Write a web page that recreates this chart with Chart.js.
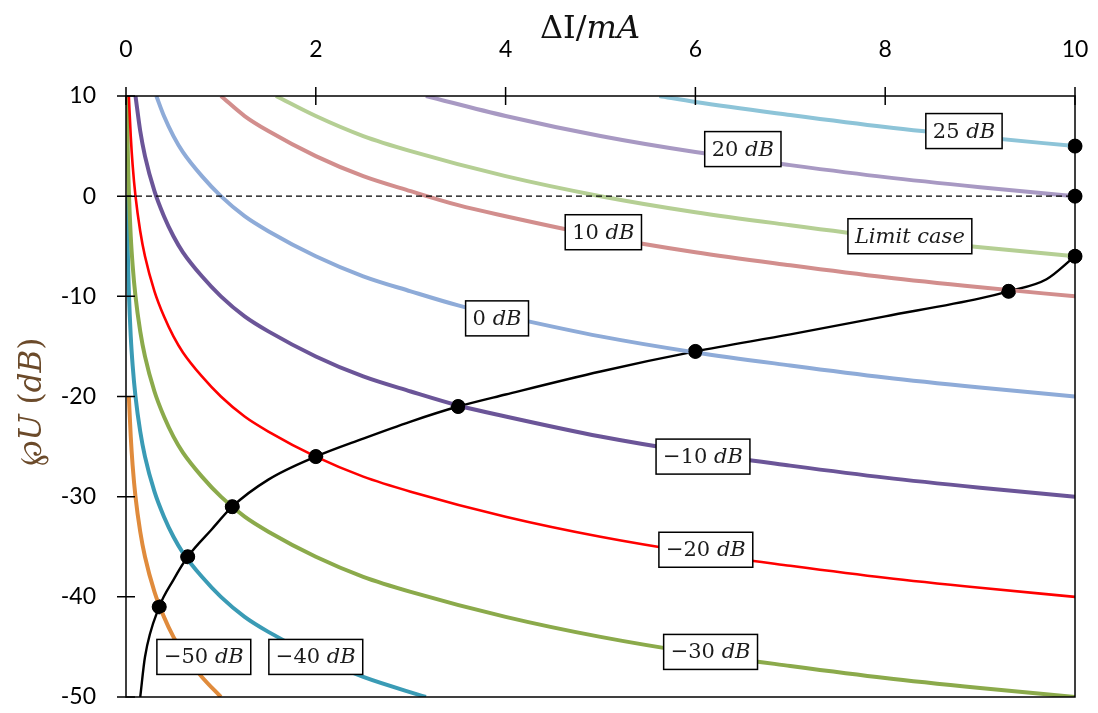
<!DOCTYPE html>
<html>
<head>
<meta charset="utf-8">
<script src="https://cdn.jsdelivr.net/npm/chart.js@4.4.0/dist/chart.umd.min.js"></script>
<style>
  html, body { margin: 0; background: #fff; }
</style>
</head>
<body>
<canvas id="c" width="1098" height="713"></canvas>
<script>
/* Attenuation curves vs ΔI. */

const xTicks = [0, 2, 4, 6, 8, 10];
const yTicks = [10, 0, -10, -20, -30, -40, -50];

const x25 = [5.62, 6, 7, 8, 9, 10];
const y25 = [10, 9.4, 8.1, 6.9, 5.9, 5];

const x20 = [3.16, 4, 5, 6, 7, 8, 9, 10];
const y20 = [10, 8, 6, 4.4, 3.1, 1.9, 0.9, 0];

const xLim = [1.58, 2, 2.5, 3, 4, 5, 6, 7, 8, 9, 10];
const yLim = [10, 8, 6, 4.5, 2, 0, -1.6, -2.9, -4.1, -5.1, -6];

const x10 = [1, 1.25, 1.5, 2, 2.5, 3, 3.5, 4, 5, 6, 7, 8, 9, 10];
const y10 = [10, 8, 6.5, 4, 2, 0.5, -0.9, -2, -4, -5.6, -6.9, -8.1, -9.1, -10];

const x0 = [0.32, 0.4, 0.5, 0.6, 0.8, 1, 1.25, 1.5, 2, 2.5, 3, 3.5, 4, 5, 6, 7, 8, 9, 10];
const y0 = [10, 8, 6, 4.4, 2, 0, -2, -3.5, -6, -8, -9.5, -10.9, -12, -14, -15.6, -16.9, -18.1, -19.1, -20];

const xM10 = [0.1, 0.15, 0.2, 0.3, 0.4, 0.5, 0.6, 0.8, 1, 1.25, 1.5, 2, 2.5, 3, 3.5, 4, 5, 6, 7, 8, 9, 10];
const yM10 = [10, 6.5, 4, 0.5, -2, -4, -5.6, -8, -10, -12, -13.5, -16, -18, -19.5, -20.9, -22, -24, -25.6, -26.9, -28.1, -29.1, -30];

const xM20 = [0.03, 0.05, 0.07, 0.1, 0.15, 0.2, 0.3, 0.4, 0.5, 0.6, 0.8, 1, 1.25, 1.5, 2, 2.5, 3, 4, 5, 6, 7, 8, 9, 10];
const yM20 = [10, 6, 3.1, 0, -3.5, -6, -9.5, -12, -14, -15.6, -18, -20, -22, -23.5, -26, -28, -29.5, -32, -34, -35.6, -36.9, -38.1, -39.1, -40];

const xM30 = [0.01, 0.02, 0.03, 0.05, 0.07, 0.1, 0.15, 0.2, 0.3, 0.4, 0.5, 0.6, 0.8, 1, 1.25, 1.5, 2, 2.5, 3, 4, 5, 6, 7, 8, 9, 10];
const yM30 = [10, 4, 0.5, -4, -6.9, -10, -13.5, -16, -19.5, -22, -24, -25.6, -28, -30, -32, -33.5, -36, -38, -39.5, -42, -44, -45.6, -46.9, -48.1, -49.1, -50];

const xM40 = [0.01, 0.02, 0.03, 0.05, 0.07, 0.1, 0.15, 0.2, 0.3, 0.4, 0.5, 0.6, 0.8, 1, 1.25, 1.5, 2, 2.5, 3.16];
const yM40 = [0, -6, -9.5, -14, -16.9, -20, -23.5, -26, -29.5, -32, -34, -35.6, -38, -40, -42, -43.5, -46, -48, -50];

const xM50 = [0.03, 0.05, 0.07, 0.1, 0.15, 0.2, 0.3, 0.4, 0.5, 0.6, 0.8, 1];
const yM50 = [-20, -24, -26.9, -30, -33.5, -36, -39.5, -42, -44, -45.6, -48, -50];

// optimum-point curve and its markers
const xOpt = [0.15, 0.2, 0.35, 0.5, 0.65, 0.9, 1.12, 1.5, 2, 2.5, 3, 3.5, 4, 5, 6, 7, 8, 9, 9.3, 9.7, 10];
const yOpt = [-50, -46, -41, -38.3, -36, -33.3, -31, -28.3, -26, -24.2, -22.5, -21, -19.8, -17.5, -15.5, -13.8, -12, -10.2, -9.5, -8.3, -6];
const xDots = [0.35, 0.65, 1.12, 2, 3.5, 6, 9.3, 10, 10, 10];
const yDots = [-41, -36, -31, -26, -21, -15.5, -9.5, -6, 0, 5];

const curves = [
  { xs: x25, ys: y25, color: '#8DC4D8', w: 4 },
  { xs: x20, ys: y20, color: '#A899C3', w: 4 },
  { xs: xLim, ys: yLim, color: '#B5CF94', w: 4 },
  { xs: x10, ys: y10, color: '#D28E8D', w: 4 },
  { xs: x0, ys: y0, color: '#8EABD8', w: 4 },
  { xs: xM10, ys: yM10, color: '#6B5598', w: 4 },
  { xs: xM20, ys: yM20, color: '#FF0000', w: 2.6 },
  { xs: xM30, ys: yM30, color: '#8BAA4B', w: 4 },
  { xs: xM40, ys: yM40, color: '#3A9BB5', w: 4 },
  { xs: xM50, ys: yM50, color: '#E08B3C', w: 4 }
];

// curve tags: [parts, x, y] in data units
const tags = [
  [[['25 ', 0], ['dB', 1]], 8.83, 6.5],
  [[['20 ', 0], ['dB', 1]], 6.5, 4.7],
  [[['Limit case', 1]], 8.26, -4.0],
  [[['10 ', 0], ['dB', 1]], 5.03, -3.6],
  [[['0 ', 0], ['dB', 1]], 3.91, -12.2],
  [[['\u221210 ', 0], ['dB', 1]], 6.08, -26.0],
  [[['\u221220 ', 0], ['dB', 1]], 6.11, -35.3],
  [[['\u221230 ', 0], ['dB', 1]], 6.16, -45.5],
  [[['\u221250 ', 0], ['dB', 1]], 0.82, -46.0],
  [[['\u221240 ', 0], ['dB', 1]], 2.0, -46.0]
];

const pts = (xs, ys) => xs.map((x, i) => ({ x, y: ys[i] }));

const datasets = [
  {
    data: [{ x: 0, y: 0 }, { x: 10, y: 0 }],
    borderColor: '#000', borderWidth: 1.3, borderDash: [6, 4], pointRadius: 0
  },
  ...curves.map(c => ({
    data: pts(c.xs, c.ys),
    borderColor: c.color, borderWidth: c.w, pointRadius: 0,
    cubicInterpolationMode: 'monotone'
  })),
  {
    data: pts(xOpt, yOpt),
    borderColor: '#000', borderWidth: 2.4, pointRadius: 0,
    cubicInterpolationMode: 'monotone'
  },
  {
    data: pts(xDots, yDots),
    showLine: false, pointRadius: 7, pointBackgroundColor: '#000',
    pointBorderColor: '#000', clip: false
  }
];

const frame = {
  id: 'frame',
  afterDatasetsDraw(chart) {
    const { ctx, chartArea: a, scales } = chart;
    ctx.save();
    ctx.strokeStyle = '#000';
    ctx.lineWidth = 1.5;
    ctx.strokeRect(a.left, a.top, a.right - a.left, a.bottom - a.top);
    ctx.beginPath();
    xTicks.forEach(v => {
      const px = scales.x.getPixelForValue(v);
      ctx.moveTo(px, a.top - 9); ctx.lineTo(px, a.top + 9);
    });
    yTicks.forEach(v => {
      const py = scales.y.getPixelForValue(v);
      ctx.moveTo(a.left - 9, py); ctx.lineTo(a.left + 9, py);
    });
    ctx.stroke();

    // redraw the markers above the frame
    const meta = chart.getDatasetMeta(datasets.length - 1);
    ctx.fillStyle = '#000';
    meta.data.forEach(p => { ctx.beginPath(); ctx.arc(p.x, p.y, 7, 0, Math.PI * 2); ctx.fill(); });

    // curve tags
    ctx.textBaseline = 'middle';
    tags.forEach(([parts, tx, ty]) => {
      const cx = scales.x.getPixelForValue(tx), cy = scales.y.getPixelForValue(ty);
      let w = 0;
      const ws = parts.map(([t, it]) => {
        ctx.font = (it ? 'italic ' : '') + '21px "DejaVu Serif"';
        const m = ctx.measureText(t).width; w += m; return m;
      });
      const bw = w + 14, bh = 35;
      ctx.fillStyle = '#fff';
      ctx.fillRect(cx - bw / 2, cy - bh / 2, bw, bh);
      ctx.lineWidth = 1.5;
      ctx.strokeRect(cx - bw / 2, cy - bh / 2, bw, bh);
      ctx.fillStyle = '#1b1b1b';
      let x = cx - w / 2;
      parts.forEach(([t, it], i) => {
        ctx.font = (it ? 'italic ' : '') + '21px "DejaVu Serif"';
        ctx.fillText(t, x, cy + 1);
        x += ws[i];
      });
    });

    // axis titles
    const seg = (list, x0, y0) => {
      let w = 0;
      const ws = list.map(([t, f]) => { ctx.font = f; const m = ctx.measureText(t).width; w += m; return m; });
      let x = x0 - w / 2;
      list.forEach(([t, f], i) => { ctx.font = f; ctx.fillText(t, x, y0); x += ws[i]; });
    };
    ctx.fillStyle = '#111';
    ctx.textBaseline = 'middle';
    seg([['\u0394I/', '32px "DejaVu Serif"'], ['mA', 'italic 32px "DejaVu Serif"']], 590, 30);

    ctx.translate(33, 402);
    ctx.rotate(-Math.PI / 2);
    ctx.fillStyle = '#6b4a2a';
    seg([['\u2118', '31px "DejaVu Serif"'], ['U', 'italic 31px "DejaVu Serif"'],
         [' (', '31px "DejaVu Serif"'], ['dB', 'italic 31px "DejaVu Serif"'],
         [')', '31px "DejaVu Serif"']], 0, 0);
    ctx.restore();
  }
};

new Chart(document.getElementById('c'), {
  type: 'scatter',
  data: { datasets: datasets.map(d => ({ showLine: true, fill: false, ...d })) },
  options: {
    responsive: false,
    devicePixelRatio: 1,
    animation: false,
    layout: { padding: { right: 23, bottom: 16 } },
    plugins: { legend: { display: false }, tooltip: { enabled: false } },
    scales: {
      x: {
        type: 'linear', position: 'top', min: 0, max: 10,
        afterFit: s => { s.height = 96; s.paddingLeft = 0; s.paddingRight = 0; },
        afterBuildTicks: s => { s.ticks = xTicks.map(v => ({ value: v })); },
        grid: { display: false, drawTicks: false },
        border: { display: false },
        ticks: { padding: 33, color: '#000', font: { family: 'Lato', size: 23 }, maxRotation: 0 }
      },
      y: {
        type: 'linear', min: -50, max: 10,
        afterFit: s => { s.width = 126; s.paddingTop = 0; s.paddingBottom = 0; },
        afterBuildTicks: s => { s.ticks = yTicks.map(v => ({ value: v })); },
        grid: { display: false, drawTicks: false },
        border: { display: false },
        ticks: { padding: 30, color: '#000', font: { family: 'Lato', size: 23 } }
      }
    }
  },
  plugins: [frame]
});
</script>
</body>
</html>
